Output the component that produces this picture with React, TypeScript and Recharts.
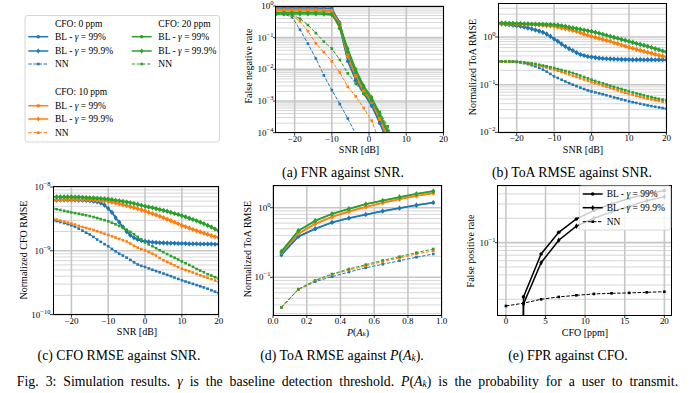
import React from "react";
import { LineChart, Line, XAxis, YAxis, CartesianGrid } from "recharts";

const SERIF = "'Liberation Serif', 'Times New Roman', serif";
const C0 = "#1f77b4";
const C1 = "#ff7f0e";
const C2 = "#2ca02c";
// matplotlib clips a zero rate on a log axis to a tiny positive number
const ZERO = 1e-30;

// ---------- (a) FNR against SNR ----------
const aSnr = [-25, -22.86, -20.71, -18.57, -16.43, -14.29, -12.14, -10, -7.86, -5.71, -3.57, -1.43, 0.71, 2.86, 5, 7.14, 9.29, 11.43, 13.57, 15.71, 17.86, 20];
const aBlue99 = [0.97, 0.97, 0.97, 0.97, 0.97, 0.97, 0.96, 0.93, 0.2, 0.018, 0.0045, 0.0017, 0.0007, 0.0002, 0.00005, null, null, null, null, null, null, null];
const aBlue999 = [0.86, 0.86, 0.86, 0.86, 0.86, 0.86, 0.85, 0.82, 0.3, 0.025, 0.0055, 0.0019, 0.0008, 0.00025, 0.00007, null, null, null, null, null, null, null];
const aBlueNN = [0.56, 0.55, 0.45, 0.18, 0.065, 0.022, 0.0065, 0.0022, 0.0008, 0.00028, 0.00009, 0.00002, null, null, null, null, null, null, null, null, null, null];
const aOrange99 = [0.76, 0.76, 0.76, 0.76, 0.76, 0.76, 0.75, 0.72, 0.22, 0.025, 0.006, 0.002, 0.0009, 0.00026, 0.00007, null, null, null, null, null, null, null];
const aOrange999 = [0.69, 0.69, 0.69, 0.69, 0.69, 0.69, 0.68, 0.66, 0.28, 0.032, 0.0075, 0.0023, 0.001, 0.0003, 0.00009, null, null, null, null, null, null, null];
const aOrangeNN = [0.62, 0.6, 0.5, 0.33, 0.16, 0.066, 0.035, 0.018, 0.008, 0.0028, 0.0014, 0.0006, 0.00024, 0.00005, null, null, null, null, null, null, null, null];
const aGreen99 = [0.61, 0.61, 0.61, 0.61, 0.61, 0.61, 0.6, 0.57, 0.2, 0.035, 0.008, 0.0026, 0.0011, 0.00035, 0.0001, 0.00002, null, null, null, null, null, null];
const aGreen999 = [0.56, 0.56, 0.56, 0.56, 0.56, 0.56, 0.55, 0.52, 0.26, 0.045, 0.01, 0.003, 0.0013, 0.0004, 0.00012, 0.00002, null, null, null, null, null, null];
const aGreenNN = [0.58, 0.57, 0.52, 0.4, 0.25, 0.14, 0.075, 0.045, 0.02, 0.0075, 0.0035, 0.0017, 0.001, 0.00045, 0.00016, 0.00004, null, null, null, null, null, null];

// ---------- (b) ToA RMSE against SNR ----------
const bSnr = [-25, -24, -23, -22, -21, -20, -19, -18, -17, -16, -15, -14, -13, -12, -11, -10, -9, -8, -7, -6, -5, -4, -3, -2, -1, 0, 1, 2, 3, 4, 5, 6, 7, 8, 9, 10, 11, 12, 13, 14, 15, 16, 17, 18, 19, 20];
const bBlueBL = [1.9, 1.88, 1.85, 1.81, 1.77, 1.73, 1.68, 1.62, 1.55, 1.48, 1.4, 1.33, 1.25, 1.15, 1.03, 0.91, 0.81, 0.71, 0.63, 0.57, 0.52, 0.47, 0.43, 0.41, 0.39, 0.38, 0.37, 0.36, 0.355, 0.35, 0.347, 0.344, 0.341, 0.339, 0.337, 0.336, 0.335, 0.335, 0.336, 0.334, 0.335, 0.335, 0.334, 0.335, 0.335, 0.335];
const bOrangeBL = [1.9, 1.9, 1.89, 1.88, 1.87, 1.86, 1.85, 1.84, 1.83, 1.82, 1.81, 1.79, 1.76, 1.73, 1.7, 1.67, 1.61, 1.55, 1.49, 1.43, 1.37, 1.3, 1.23, 1.16, 1.09, 1.03, 0.98, 0.93, 0.89, 0.85, 0.81, 0.76, 0.72, 0.68, 0.64, 0.605, 0.58, 0.55, 0.525, 0.5, 0.476, 0.455, 0.435, 0.415, 0.397, 0.38];
const bGreenBL = [1.96, 1.96, 1.95, 1.94, 1.93, 1.92, 1.91, 1.9, 1.89, 1.87, 1.86, 1.85, 1.84, 1.83, 1.82, 1.81, 1.77, 1.72, 1.67, 1.61, 1.55, 1.5, 1.45, 1.4, 1.35, 1.31, 1.25, 1.2, 1.14, 1.09, 1.03, 0.98, 0.94, 0.89, 0.85, 0.81, 0.77, 0.73, 0.7, 0.67, 0.635, 0.6, 0.57, 0.54, 0.51, 0.485];
const bBlueNN = [0.308, 0.308, 0.307, 0.306, 0.305, 0.3, 0.293, 0.283, 0.27, 0.256, 0.242, 0.225, 0.207, 0.188, 0.168, 0.149, 0.138, 0.127, 0.117, 0.108, 0.1, 0.093, 0.087, 0.081, 0.076, 0.072, 0.069, 0.066, 0.063, 0.06, 0.057, 0.054, 0.052, 0.049, 0.047, 0.0447, 0.043, 0.0415, 0.0398, 0.0383, 0.0368, 0.0356, 0.0344, 0.0334, 0.0324, 0.0314];
const bOrangeNN = [0.308, 0.307, 0.306, 0.305, 0.304, 0.302, 0.296, 0.289, 0.28, 0.272, 0.263, 0.251, 0.24, 0.228, 0.217, 0.206, 0.195, 0.184, 0.174, 0.164, 0.154, 0.145, 0.136, 0.128, 0.121, 0.114, 0.108, 0.102, 0.096, 0.0905, 0.0853, 0.0805, 0.076, 0.0718, 0.0677, 0.0638, 0.0609, 0.0581, 0.0556, 0.0532, 0.051, 0.0491, 0.0472, 0.0456, 0.044, 0.0426];
const bGreenNN = [0.308, 0.308, 0.307, 0.306, 0.305, 0.303, 0.298, 0.292, 0.285, 0.279, 0.272, 0.262, 0.252, 0.243, 0.233, 0.224, 0.213, 0.203, 0.194, 0.185, 0.176, 0.165, 0.155, 0.145, 0.136, 0.127, 0.12, 0.113, 0.107, 0.101, 0.0953, 0.09, 0.0853, 0.081, 0.0766, 0.0724, 0.069, 0.0658, 0.0627, 0.0598, 0.0569, 0.0546, 0.0525, 0.0505, 0.0487, 0.0469];

// ---------- (c) CFO RMSE against SNR ----------
const cBlueBL = [6.2e-9, 6.2e-9, 6.25e-9, 6.25e-9, 6.25e-9, 6.25e-9, 6.25e-9, 6.2e-9, 6.2e-9, 6.15e-9, 6.1e-9, 6.0e-9, 5.85e-9, 5.6e-9, 5.2e-9, 4.6e-9, 4.0e-9, 3.3e-9, 2.8e-9, 2.35e-9, 2.0e-9, 1.75e-9, 1.6e-9, 1.5e-9, 1.45e-9, 1.41e-9, 1.38e-9, 1.36e-9, 1.35e-9, 1.34e-9, 1.33e-9, 1.32e-9, 1.31e-9, 1.31e-9, 1.3e-9, 1.3e-9, 1.3e-9, 1.29e-9, 1.29e-9, 1.29e-9, 1.28e-9, 1.28e-9, 1.28e-9, 1.28e-9, 1.27e-9, 1.27e-9];
const cOrangeBL = [6.2e-9, 6.25e-9, 6.3e-9, 6.33e-9, 6.35e-9, 6.35e-9, 6.36e-9, 6.37e-9, 6.37e-9, 6.36e-9, 6.35e-9, 6.3e-9, 6.22e-9, 6.13e-9, 6.05e-9, 5.95e-9, 5.8e-9, 5.62e-9, 5.45e-9, 5.27e-9, 5.1e-9, 4.92e-9, 4.75e-9, 4.57e-9, 4.38e-9, 4.2e-9, 4.0e-9, 3.82e-9, 3.64e-9, 3.47e-9, 3.3e-9, 3.13e-9, 2.97e-9, 2.8e-9, 2.65e-9, 2.5e-9, 2.38e-9, 2.27e-9, 2.16e-9, 2.06e-9, 1.97e-9, 1.89e-9, 1.81e-9, 1.73e-9, 1.66e-9, 1.6e-9];
const cGreenBL = [7.0e-9, 7.0e-9, 7.0e-9, 7.0e-9, 7.0e-9, 7.0e-9, 6.98e-9, 6.95e-9, 6.9e-9, 6.85e-9, 6.8e-9, 6.75e-9, 6.68e-9, 6.6e-9, 6.52e-9, 6.45e-9, 6.33e-9, 6.2e-9, 6.08e-9, 5.95e-9, 5.8e-9, 5.65e-9, 5.5e-9, 5.35e-9, 5.18e-9, 5.0e-9, 4.86e-9, 4.72e-9, 4.58e-9, 4.44e-9, 4.3e-9, 4.15e-9, 4.0e-9, 3.85e-9, 3.7e-9, 3.55e-9, 3.4e-9, 3.25e-9, 3.1e-9, 2.95e-9, 2.8e-9, 2.65e-9, 2.5e-9, 2.35e-9, 2.2e-9, 2.05e-9];
const cBlueNN = [3.0e-9, 2.92e-9, 2.82e-9, 2.72e-9, 2.62e-9, 2.51e-9, 2.38e-9, 2.22e-9, 2.07e-9, 1.92e-9, 1.8e-9, 1.65e-9, 1.5e-9, 1.38e-9, 1.27e-9, 1.18e-9, 1.07e-9, 0.98e-9, 0.9e-9, 0.84e-9, 0.78e-9, 0.72e-9, 0.66e-9, 0.61e-9, 0.58e-9, 0.557e-9, 0.53e-9, 0.505e-9, 0.48e-9, 0.46e-9, 0.44e-9, 0.42e-9, 0.4e-9, 0.38e-9, 0.362e-9, 0.345e-9, 0.33e-9, 0.316e-9, 0.303e-9, 0.29e-9, 0.278e-9, 0.266e-9, 0.254e-9, 0.241e-9, 0.229e-9, 0.218e-9];
const cOrangeNN = [3.19e-9, 3.08e-9, 2.98e-9, 2.87e-9, 2.77e-9, 2.67e-9, 2.57e-9, 2.46e-9, 2.36e-9, 2.28e-9, 2.2e-9, 2.12e-9, 2.03e-9, 1.94e-9, 1.85e-9, 1.77e-9, 1.69e-9, 1.61e-9, 1.53e-9, 1.46e-9, 1.4e-9, 1.3e-9, 1.2e-9, 1.12e-9, 1.06e-9, 1.02e-9, 0.96e-9, 0.9e-9, 0.84e-9, 0.77e-9, 0.71e-9, 0.67e-9, 0.63e-9, 0.59e-9, 0.555e-9, 0.526e-9, 0.5e-9, 0.478e-9, 0.457e-9, 0.435e-9, 0.413e-9, 0.395e-9, 0.378e-9, 0.36e-9, 0.342e-9, 0.324e-9];
const cGreenNN = [4.6e-9, 4.48e-9, 4.36e-9, 4.24e-9, 4.12e-9, 4.0e-9, 3.9e-9, 3.8e-9, 3.7e-9, 3.6e-9, 3.5e-9, 3.38e-9, 3.26e-9, 3.14e-9, 3.02e-9, 2.9e-9, 2.75e-9, 2.6e-9, 2.45e-9, 2.3e-9, 2.15e-9, 1.98e-9, 1.82e-9, 1.65e-9, 1.5e-9, 1.35e-9, 1.26e-9, 1.18e-9, 1.1e-9, 1.02e-9, 0.95e-9, 0.89e-9, 0.83e-9, 0.78e-9, 0.73e-9, 0.68e-9, 0.64e-9, 0.6e-9, 0.56e-9, 0.52e-9, 0.49e-9, 0.46e-9, 0.43e-9, 0.41e-9, 0.385e-9, 0.366e-9];

// ---------- (d) ToA RMSE against P(A_k) ----------
const dP = [0.05, 0.15, 0.25, 0.35, 0.45, 0.55, 0.65, 0.75, 0.85, 0.95];
const dBlue99 = [0.209, 0.383, 0.494, 0.61, 0.703, 0.794, 0.887, 0.98, 1.08, 1.18];
const dBlue999 = [0.212, 0.388, 0.5, 0.617, 0.71, 0.802, 0.896, 0.99, 1.09, 1.19];
const dBlueNN = [0.037, 0.0665, 0.0865, 0.102, 0.119, 0.137, 0.154, 0.173, 0.194, 0.216];
const dOrange99 = [0.226, 0.419, 0.584, 0.735, 0.877, 1.02, 1.17, 1.32, 1.47, 1.61];
const dOrange999 = [0.229, 0.425, 0.592, 0.745, 0.888, 1.03, 1.18, 1.33, 1.48, 1.63];
const dOrangeNN = [0.037, 0.067, 0.0885, 0.109, 0.127, 0.146, 0.168, 0.19, 0.216, 0.24];
const dGreen99 = [0.233, 0.462, 0.644, 0.81, 0.96, 1.12, 1.26, 1.41, 1.57, 1.72];
const dGreen999 = [0.236, 0.468, 0.652, 0.82, 0.97, 1.13, 1.27, 1.43, 1.59, 1.74];
const dGreenNN = [0.037, 0.0675, 0.0903, 0.1115, 0.1315, 0.152, 0.175, 0.198, 0.226, 0.255];

// ---------- (e) FPR against CFO ----------
const eCfo = [0, 2.22, 4.44, 6.67, 8.89, 11.11, 13.33, 15.56, 17.78, 20];
const eBL99 = [ZERO, 0.0214, 0.0725, 0.134, 0.196, 0.25, 0.3, 0.35, 0.4, 0.44];
const eBL999 = [ZERO, 0.0175, 0.0566, 0.107, 0.16, 0.2, 0.24, 0.28, 0.33, 0.37];
const eNN = [0.01655, 0.0179, 0.02, 0.0214, 0.0224, 0.0233, 0.0237, 0.024, 0.0244, 0.0248];

// axis ticks
const snrTicks = [-20, -10, 0, 10, 20];
const pTicks = [0, 0.2, 0.4, 0.6, 0.8, 1];
const cfoTicks = [0, 5, 10, 15, 20];
const aDecades = [1e-4, 1e-3, 1e-2, 1e-1, 1];
const bDecades = [1e-2, 1e-1, 1];
const cDecades = [1e-10, 1e-9, 1e-8];
const dDecades = [1e-1, 1];
const eDecades = [1e-1];

type Kind = "dot" | "diamond" | "square";
type Series = { key: string; color: string; kind: Kind };

const CFO_SERIES: Series[] = [
  { key: "blue99", color: C0, kind: "dot" },
  { key: "blue999", color: C0, kind: "diamond" },
  { key: "blueNN", color: C0, kind: "square" },
  { key: "orange99", color: C1, kind: "dot" },
  { key: "orange999", color: C1, kind: "diamond" },
  { key: "orangeNN", color: C1, kind: "square" },
  { key: "green99", color: C2, kind: "dot" },
  { key: "green999", color: C2, kind: "diamond" },
  { key: "greenNN", color: C2, kind: "square" },
];
const FPR_SERIES: Series[] = [
  { key: "bl99", color: "#000", kind: "dot" },
  { key: "bl999", color: "#000", kind: "diamond" },
  { key: "nn", color: "#000", kind: "square" },
];

function rows(xs: number[], cols: Record<string, (number | null)[]>) {
  return xs.map((x, i) => {
    const r: Record<string, number | null> = { x };
    Object.keys(cols).forEach((k) => (r[k] = cols[k][i]));
    return r;
  });
}

const aRows = rows(aSnr, { blue99: aBlue99, blue999: aBlue999, blueNN: aBlueNN, orange99: aOrange99, orange999: aOrange999, orangeNN: aOrangeNN, green99: aGreen99, green999: aGreen999, greenNN: aGreenNN });
const bRows = rows(bSnr, { blue99: bBlueBL, blue999: bBlueBL, blueNN: bBlueNN, orange99: bOrangeBL, orange999: bOrangeBL, orangeNN: bOrangeNN, green99: bGreenBL, green999: bGreenBL, greenNN: bGreenNN });
const cRows = rows(bSnr, { blue99: cBlueBL, blue999: cBlueBL, blueNN: cBlueNN, orange99: cOrangeBL, orange999: cOrangeBL, orangeNN: cOrangeNN, green99: cGreenBL, green999: cGreenBL, greenNN: cGreenNN });
const dRows = rows(dP, { blue99: dBlue99, blue999: dBlue999, blueNN: dBlueNN, orange99: dOrange99, orange999: dOrange999, orangeNN: dOrangeNN, green99: dGreen99, green999: dGreen999, greenNN: dGreenNN });
const eRows = rows(eCfo, { bl99: eBL99, bl999: eBL999, nn: eNN });

// minor log grid values (2..9 x 10^n) inside a domain
function minorValues([lo, hi]: [number, number]) {
  const out: number[] = [];
  for (let e = Math.floor(Math.log10(lo)); e <= Math.ceil(Math.log10(hi)); e++) {
    for (let k = 2; k <= 9; k++) {
      const v = k * Math.pow(10, e);
      if (v > lo && v < hi) out.push(v);
    }
  }
  return out;
}

function Marker({ cx, cy, color, kind }: { cx: number; cy: number; color: string; kind: Kind }) {
  if (kind === "dot") return <circle cx={cx} cy={cy} r={1.8} fill={color} />;
  if (kind === "diamond")
    return <path d={`M${cx},${cy - 2.8}L${cx + 1.7},${cy}L${cx},${cy + 2.8}L${cx - 1.7},${cy}Z`} fill={color} />;
  return <rect x={cx - 1.3} y={cy - 1.3} width={2.6} height={2.6} fill={color} />;
}

const dotFor = (color: string, kind: Kind) => (p: any) => {
  const ok = Number.isFinite(p.cx) && Number.isFinite(p.cy);
  return <g key={`m${p.index}`}>{ok ? <Marker cx={p.cx} cy={p.cy} color={color} kind={kind} /> : null}</g>;
};

const minus = (v: number) => (v < 0 ? "\u2212" + Math.abs(v) : String(v));

const xTick = (p: any, fmt: (v: number) => string) => (
  <text x={p.x} y={p.y + 6} textAnchor="middle" fontSize={9} fontFamily={SERIF} fill="#000">
    {fmt(p.payload.value)}
  </text>
);

const yTick = (p: any) => {
  const e = Math.round(Math.log10(p.payload.value));
  return (
    <text x={p.x + 0.5} y={p.y + 3} textAnchor="end" fontSize={9} fontFamily={SERIF} fill="#000">
      10<tspan dy={-4} fontSize={6.5}>{minus(e)}</tspan>
    </text>
  );
};

type Box = { x: number; y: number; w: number; h: number };

function Panel(props: {
  box: Box;
  data: Record<string, number | null>[];
  series: Series[];
  xDomain: [number, number];
  xTicks: number[];
  xFmt: (v: number) => string;
  yDomain: [number, number];
  yTicks: number[];
}) {
  const { box, data, series, xDomain, xTicks, xFmt, yDomain, yTicks } = props;
  const ML = 45, MT = 6, MR = 6, MB = 24;
  return (
    <div style={{ position: "absolute", left: box.x - ML, top: box.y - MT }}>
      <LineChart width={box.w + ML + MR} height={box.h + MT + MB} data={data} margin={{ top: MT, right: MR, bottom: 0, left: 0 }}>
        <CartesianGrid vertical={false} horizontalValues={minorValues(yDomain)} stroke="#c8c8c8" strokeWidth={0.75} />
        <CartesianGrid horizontalValues={yTicks} verticalValues={xTicks} stroke="#c6c6c6" strokeWidth={1.6} />
        <XAxis
          dataKey="x"
          type="number"
          domain={xDomain}
          ticks={xTicks}
          interval={0}
          allowDataOverflow
          height={MB}
          axisLine={false}
          tickSize={3}
          tickMargin={0}
          tickLine={{ stroke: "#000", strokeWidth: 0.8 }}
          tick={(p: any) => xTick(p, xFmt)}
        />
        <YAxis
          type="number"
          scale="log"
          domain={yDomain}
          ticks={yTicks}
          interval={0}
          allowDataOverflow
          width={ML}
          axisLine={false}
          tickSize={3}
          tickMargin={0}
          tickLine={{ stroke: "#000", strokeWidth: 0.8 }}
          tick={yTick}
        />
        {series.map((s) => (
          <Line
            key={s.key}
            type="linear"
            dataKey={s.key}
            stroke={s.color}
            strokeWidth={s.kind === "square" ? 1 : 1.5}
            strokeDasharray={s.kind === "square" ? "3.5 1.6" : undefined}
            dot={dotFor(s.color, s.kind)}
            activeDot={false}
            isAnimationActive={false}
          />
        ))}
      </LineChart>
      <div
        style={{
          position: "absolute",
          left: ML - 0.5,
          top: MT - 0.5,
          width: box.w + 1,
          height: box.h + 1,
          border: "1px solid #000",
          boxSizing: "border-box",
          pointerEvents: "none",
        }}
      />
    </div>
  );
}

function Handle({ x, y, color, kind }: { x: number; y: number; color: string; kind: Kind }) {
  const dashed = kind === "square";
  return (
    <g>
      <line x1={x} x2={x + 20} y1={y} y2={y} stroke={color} strokeWidth={dashed ? 1 : 1.5} strokeDasharray={dashed ? "3.5 1.6" : undefined} />
      <Marker cx={x + 10} cy={y} color={color} kind={kind} />
    </g>
  );
}

const Gamma = ({ pct }: { pct: string }) => (
  <>
    BL - <tspan fontStyle="italic">γ</tspan> = {pct}
  </>
);

export default function App() {
  const snrFmt = minus;
  return (
    <div style={{ position: "absolute", left: 0, top: 0, width: 694, height: 393, background: "#fff", overflow: "hidden", fontFamily: SERIF }}>
      <Panel box={{ x: 275.5, y: 6, w: 167.5, h: 126.7 }} data={aRows} series={CFO_SERIES} xDomain={[-25, 20]} xTicks={snrTicks} xFmt={snrFmt} yDomain={[1e-4, 1]} yTicks={aDecades} />
      <Panel box={{ x: 498.3, y: 3.3, w: 168.4, h: 129.4 }} data={bRows} series={CFO_SERIES} xDomain={[-25, 20]} xTicks={snrTicks} xFmt={snrFmt} yDomain={[0.01, 5.16]} yTicks={bDecades} />
      <Panel box={{ x: 53.3, y: 186.7, w: 165.7, h: 127.6 }} data={cRows} series={CFO_SERIES} xDomain={[-25, 20]} xTicks={snrTicks} xFmt={snrFmt} yDomain={[1e-10, 1e-8]} yTicks={cDecades} />
      <Panel box={{ x: 273.3, y: 185, w: 168.7, h: 130 }} data={dRows} series={CFO_SERIES} xDomain={[0, 1]} xTicks={pTicks} xFmt={(v) => v.toFixed(1)} yDomain={[0.0287, 2.12]} yTicks={dDecades} />
      <Panel box={{ x: 497.7, y: 185, w: 174.3, h: 130 }} data={eRows} series={FPR_SERIES} xDomain={[-1, 21]} xTicks={cfoTicks} xFmt={(v) => String(v)} yDomain={[0.0128, 0.515]} yTicks={eDecades} />

      <svg width={694} height={393} style={{ position: "absolute", left: 0, top: 0, pointerEvents: "none", fontFamily: SERIF }} fill="#000">
        {/* axis labels */}
        <g fontSize={10} textAnchor="middle" dominantBaseline="central">
          <text transform="translate(248,66) rotate(-90)">False negative rate</text>
          <text transform="translate(472,67) rotate(-90)">Normalized ToA RMSE</text>
          <text transform="translate(23.5,250) rotate(-90)">Normalized CFO RMSE</text>
          <text transform="translate(247,249) rotate(-90)">Normalized ToA RMSE</text>
          <text transform="translate(470.5,251) rotate(-90)">False positive rate</text>
          <text x={359} y={149.5}>SNR [dB]</text>
          <text x={583} y={149.5}>SNR [dB]</text>
          <text x={137} y={331.5}>SNR [dB]</text>
          <text x={358} y={331.5}>
            <tspan fontStyle="italic">P</tspan>(<tspan fontStyle="italic">A</tspan>
            <tspan fontStyle="italic" fontSize={7} dy={2}>k</tspan>
            <tspan dy={-2}>)</tspan>
          </text>
          <text x={585} y={332.5}>CFO [ppm]</text>
        </g>

        {/* sub-captions and figure caption */}
        <g fontSize={13.8} textAnchor="middle" dominantBaseline="central">
          <text x={343} y={172}>(a) FNR against SNR.</text>
          <text x={572} y={172}>(b) ToA RMSE against SNR.</text>
          <text x={119} y={355}>(c) CFO RMSE against SNR.</text>
          <text x={342} y={355}>
            (d) ToA RMSE against <tspan fontStyle="italic">P</tspan>(<tspan fontStyle="italic">A</tspan>
            <tspan fontStyle="italic" fontSize={9.5} dy={3}>k</tspan>
            <tspan dy={-3}>).</tspan>
          </text>
          <text x={568} y={355}>(e) FPR against CFO.</text>
          <text x={347.5} y={381} wordSpacing={3.5}>
            Fig. 3: Simulation results. <tspan fontStyle="italic">γ</tspan> is the baseline detection threshold.{" "}
            <tspan fontStyle="italic">P</tspan>(<tspan fontStyle="italic">A</tspan>
            <tspan fontStyle="italic" fontSize={9.5} dy={3}>k</tspan>
            <tspan dy={-3}>) is the probability for a user to transmit.</tspan>
          </text>
        </g>

        {/* shared legend */}
        <rect x={25} y={15.5} width={194.5} height={126.5} rx={2.5} fill="#fff" stroke="#d6d6d6" strokeWidth={1} />
        <g fontSize={9.5} dominantBaseline="central">
          <text x={55} y={24}>CFO: 0 ppm</text>
          <Handle x={28.3} y={36.7} color={C0} kind="dot" />
          <text x={55} y={36.7}><Gamma pct="99%" /></text>
          <Handle x={28.3} y={51} color={C0} kind="diamond" />
          <text x={55} y={51}><Gamma pct="99.9%" /></text>
          <Handle x={28.3} y={64} color={C0} kind="square" />
          <text x={55} y={64}>NN</text>

          <text x={55} y={92.3}>CFO: 10 ppm</text>
          <Handle x={28.3} y={105.7} color={C1} kind="dot" />
          <text x={55} y={105.7}><Gamma pct="99%" /></text>
          <Handle x={28.3} y={119} color={C1} kind="diamond" />
          <text x={55} y={119}><Gamma pct="99.9%" /></text>
          <Handle x={28.3} y={132.7} color={C1} kind="square" />
          <text x={55} y={132.7}>NN</text>

          <text x={158.3} y={24}>CFO: 20 ppm</text>
          <Handle x={131.7} y={36.7} color={C2} kind="dot" />
          <text x={158.3} y={36.7}><Gamma pct="99%" /></text>
          <Handle x={131.7} y={51} color={C2} kind="diamond" />
          <text x={158.3} y={51}><Gamma pct="99.9%" /></text>
          <Handle x={131.7} y={64} color={C2} kind="square" />
          <text x={158.3} y={64}>NN</text>
        </g>

        {/* legend of (e) */}
        <rect x={579.3} y={186} width={91.4} height={44} rx={2} fill="#fff" fillOpacity={0.8} stroke="#d6d6d6" strokeWidth={1} />
        <g fontSize={9.5} dominantBaseline="central">
          <Handle x={582.7} y={194} color="#000" kind="dot" />
          <text x={606.7} y={194}><Gamma pct="99%" /></text>
          <Handle x={582.7} y={207.7} color="#000" kind="diamond" />
          <text x={606.7} y={207.7}><Gamma pct="99.9%" /></text>
          <Handle x={582.7} y={221.7} color="#000" kind="square" />
          <text x={606.7} y={221.7}>NN</text>
        </g>
      </svg>
    </div>
  );
}
